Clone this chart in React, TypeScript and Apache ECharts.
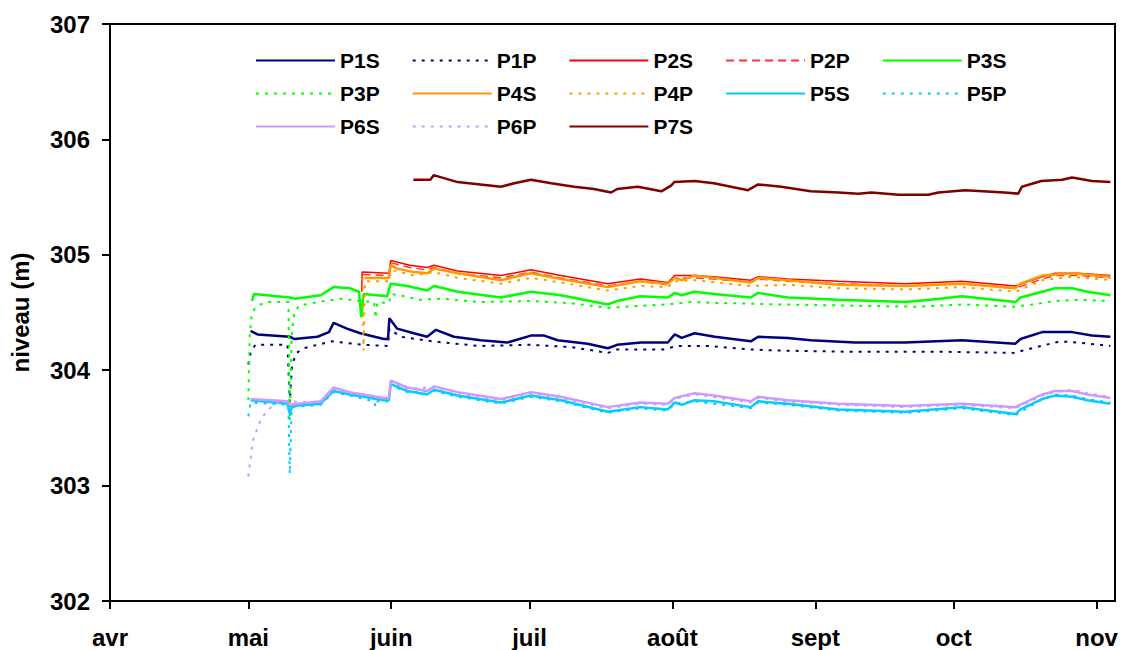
import { useEffect, useRef } from 'react';
import * as echarts from 'echarts';

// x values are days counted from 1 April (0 = 1 avr, 214 = 1 nov)
const monthLabels = ['avr', 'mai', 'juin', 'juil', 'août', 'sept', 'oct', 'nov'];
const monthStartDays = [0, 30, 61, 91, 122, 153, 183, 214];
const lastDay = 218;

const P1S = [[30.5, 304.34], [31, 304.33], [32, 304.31], [39, 304.29], [40, 304.27], [45, 304.29], [47.5, 304.33], [48.5, 304.41], [51.4, 304.36], [54.3, 304.32], [59.4, 304.27], [60.3, 304.27], [60.6, 304.45], [62.3, 304.36], [65.9, 304.32], [68.8, 304.29], [70.7, 304.35], [74.6, 304.29], [80.4, 304.26], [86.2, 304.24], [91.3, 304.3], [94.2, 304.3], [97.1, 304.26], [103.6, 304.23], [108, 304.19], [110, 304.22], [115.2, 304.24], [121, 304.24], [122.5, 304.31], [124, 304.28], [126.8, 304.32], [131.2, 304.29], [139, 304.25], [140.6, 304.29], [147, 304.28], [152, 304.26], [161.6, 304.24], [172.5, 304.24], [184.8, 304.26], [196.4, 304.23], [197.5, 304.27], [202.2, 304.33], [208.7, 304.33], [213, 304.3], [217, 304.29]];
const P1P = [[30, 304.05], [30.5, 304.15], [31.5, 304.22], [38.5, 304.22], [39, 303.72], [39.5, 304.05], [40.5, 304.15], [42, 304.19], [48, 304.25], [55, 304.22], [60.3, 304.21], [60.6, 304.36], [63, 304.29], [70, 304.25], [80, 304.21], [91, 304.22], [100, 304.2], [108, 304.15], [110, 304.18], [120, 304.18], [123, 304.21], [130, 304.21], [139, 304.18], [145, 304.17], [160, 304.16], [180, 304.16], [196, 304.15], [198, 304.17], [202, 304.21], [206, 304.25], [210, 304.24], [217, 304.21]];
const P2S = [[54.6, 304.68], [54.7, 304.85], [60.5, 304.84], [60.9, 304.95], [65, 304.91], [68.8, 304.89], [70.3, 304.91], [75.4, 304.86], [84.8, 304.82], [91.3, 304.87], [97.8, 304.82], [108, 304.75], [115, 304.79], [121, 304.76], [122.5, 304.82], [126.8, 304.82], [131, 304.81], [139, 304.78], [140.6, 304.81], [147, 304.79], [158, 304.77], [172.5, 304.75], [184.8, 304.77], [196.4, 304.73], [202.2, 304.81], [205, 304.84], [210, 304.84], [217, 304.82]];
const P2P = [[54.8, 304.83], [60.5, 304.82], [61, 304.93], [65, 304.89], [68.8, 304.87], [70.3, 304.89], [75.4, 304.84], [84.8, 304.8], [91.3, 304.85], [97.8, 304.8], [108, 304.73], [115, 304.77], [121, 304.74], [122.5, 304.8], [126.8, 304.8], [131, 304.79], [139, 304.76], [140.6, 304.79], [147, 304.77], [158, 304.75], [172.5, 304.73], [184.8, 304.75], [196.4, 304.71], [202.2, 304.79], [205, 304.82], [210, 304.82], [217, 304.8]];
const P3S = [[30.8, 304.6], [31.2, 304.66], [39, 304.63], [40, 304.62], [45.7, 304.65], [48.5, 304.72], [52, 304.71], [54, 304.68], [54.5, 304.46], [55, 304.66], [60.1, 304.64], [60.9, 304.75], [64.5, 304.73], [68.8, 304.69], [70.3, 304.73], [75.4, 304.68], [84.8, 304.63], [91.3, 304.68], [97.8, 304.65], [108, 304.57], [110, 304.6], [115, 304.64], [121, 304.63], [122.5, 304.67], [124, 304.65], [126.8, 304.68], [131, 304.66], [139, 304.63], [140.6, 304.67], [147, 304.63], [158, 304.61], [172.5, 304.59], [178, 304.61], [184.8, 304.64], [196.4, 304.59], [197.5, 304.63], [202.2, 304.68], [205, 304.71], [208.7, 304.71], [212, 304.68], [217, 304.65]];
const P3P = [[30, 303.74], [30.3, 304.3], [30.8, 304.5], [32, 304.56], [34, 304.59], [38.7, 304.59], [39, 303.56], [39.4, 304.3], [40, 304.5], [41, 304.56], [45, 304.59], [50, 304.62], [54, 304.6], [57.3, 304.59], [57.6, 304.45], [58, 304.59], [60.5, 304.58], [61, 304.66], [64, 304.64], [67, 304.61], [72, 304.62], [80, 304.59], [91, 304.6], [100, 304.58], [108, 304.54], [112, 304.55], [121, 304.57], [126, 304.59], [135, 304.58], [145, 304.57], [160, 304.56], [175, 304.55], [185, 304.57], [196, 304.55], [200, 304.57], [205, 304.6], [210, 304.61], [217, 304.6]];
const P4S = [[55.2, 304.8], [60.5, 304.8], [60.9, 304.91], [62.3, 304.88], [65.9, 304.85], [68.8, 304.84], [70.3, 304.88], [75.4, 304.84], [84.8, 304.78], [91.3, 304.84], [97.8, 304.79], [108, 304.72], [115, 304.77], [121, 304.75], [122.5, 304.8], [124, 304.78], [126.8, 304.82], [131, 304.8], [139, 304.76], [140.6, 304.8], [147, 304.78], [158, 304.74], [172.5, 304.73], [184.8, 304.75], [196.4, 304.71], [197.5, 304.75], [202.2, 304.82], [205, 304.83], [208.7, 304.84], [217, 304.81]];
const P4P = [[54.8, 304.8], [55, 304.17], [55.3, 304.77], [60.5, 304.77], [61, 304.87], [65.9, 304.82], [70.3, 304.85], [75.4, 304.8], [84.8, 304.75], [91.3, 304.8], [97.8, 304.76], [108, 304.69], [115, 304.73], [121, 304.72], [122.5, 304.77], [126.8, 304.78], [139, 304.73], [147, 304.74], [158, 304.71], [172.5, 304.7], [184.8, 304.72], [196.4, 304.68], [202.2, 304.78], [208.7, 304.81], [217, 304.78]];
const P5S = [[30.5, 303.74], [38.5, 303.71], [39, 303.62], [39.5, 303.69], [45.7, 303.71], [48.5, 303.82], [52, 303.79], [59.4, 303.74], [60.5, 303.74], [60.9, 303.88], [64.5, 303.82], [68.8, 303.79], [70.3, 303.83], [75.4, 303.78], [84.8, 303.72], [91.3, 303.78], [97.8, 303.74], [108, 303.64], [115, 303.68], [121, 303.66], [122.5, 303.72], [124, 303.7], [126.8, 303.74], [131, 303.73], [139, 303.68], [140.6, 303.73], [147, 303.71], [158, 303.66], [172.5, 303.64], [184.8, 303.68], [196.4, 303.62], [197.5, 303.66], [202.2, 303.75], [205, 303.78], [208.7, 303.77], [212, 303.74], [217, 303.71]];
const P5P = [[30, 303.6], [30.5, 303.72], [38.7, 303.7], [39, 303.1], [39.4, 303.68], [45.7, 303.7], [48.5, 303.81], [52, 303.78], [57.3, 303.73], [57.6, 303.68], [58, 303.73], [60.5, 303.73], [60.9, 303.87], [64.5, 303.81], [70.3, 303.82], [75.4, 303.77], [84.8, 303.71], [91.3, 303.77], [97.8, 303.73], [108, 303.63], [115, 303.67], [121, 303.65], [122.5, 303.71], [126.8, 303.73], [139, 303.67], [140.6, 303.72], [147, 303.7], [158, 303.65], [172.5, 303.63], [184.8, 303.67], [196.4, 303.61], [202.2, 303.75], [205, 303.79], [208.7, 303.78], [212, 303.75], [217, 303.72]];
const P6S = [[30.5, 303.75], [38.5, 303.73], [39, 303.7], [45.7, 303.73], [48.5, 303.85], [52, 303.81], [59.4, 303.76], [60.5, 303.76], [60.9, 303.91], [64.5, 303.85], [68.8, 303.82], [70.3, 303.86], [75.4, 303.81], [84.8, 303.75], [91.3, 303.81], [97.8, 303.77], [108, 303.68], [115, 303.72], [121, 303.71], [122.5, 303.76], [126.8, 303.8], [131, 303.78], [139, 303.73], [140.6, 303.77], [147, 303.74], [158, 303.71], [172.5, 303.69], [184.8, 303.71], [196.4, 303.68], [202.2, 303.79], [205, 303.82], [208.7, 303.82], [212, 303.79], [217, 303.76]];
const P6P = [[30, 303.08], [31, 303.39], [32.5, 303.55], [34, 303.65], [36, 303.71], [38.5, 303.73], [45.7, 303.72], [48.5, 303.84], [52, 303.8], [60.5, 303.75], [60.9, 303.9], [64.5, 303.84], [70.3, 303.85], [75.4, 303.8], [84.8, 303.74], [91.3, 303.8], [97.8, 303.76], [108, 303.67], [115, 303.71], [121, 303.7], [122.5, 303.75], [126.8, 303.79], [139, 303.72], [140.6, 303.76], [147, 303.73], [158, 303.7], [172.5, 303.68], [184.8, 303.7], [196.4, 303.67], [202.2, 303.78], [205, 303.81], [208.7, 303.83], [212, 303.8], [217, 303.77]];
const P7S = [[65.8, 305.65], [69.5, 305.65], [70.2, 305.69], [75.4, 305.63], [84.8, 305.59], [87.7, 305.62], [91.3, 305.65], [95.7, 305.62], [100.7, 305.59], [105, 305.57], [108.7, 305.54], [110, 305.57], [114.5, 305.59], [119.6, 305.55], [121.7, 305.6], [122.4, 305.63], [126.8, 305.64], [131, 305.62], [138.4, 305.56], [140.6, 305.61], [145.6, 305.59], [152, 305.55], [158, 305.54], [162.3, 305.53], [165.2, 305.54], [171, 305.52], [177.5, 305.52], [179.7, 305.54], [185.5, 305.56], [194, 305.54], [197, 305.53], [197.8, 305.59], [202, 305.64], [206.5, 305.65], [208.7, 305.67], [213, 305.64], [217, 305.63]];

const seriesDefs = [
  { name: 'P1S', data: P1S, color: '#000080', width: 2.5, type: 'solid' },
  { name: 'P1P', data: P1P, color: '#000080', width: 2, type: [3, 6] },
  { name: 'P2S', data: P2S, color: '#ff0000', width: 1.5, type: 'solid' },
  { name: 'P2P', data: P2P, color: '#ff3333', width: 1.5, type: [8, 5] },
  { name: 'P3S', data: P3S, color: '#00ff00', width: 2.5, type: 'solid' },
  { name: 'P3P', data: P3P, color: '#00ff00', width: 2, type: [3, 6] },
  { name: 'P4S', data: P4S, color: '#ff9900', width: 2.5, type: 'solid' },
  { name: 'P4P', data: P4P, color: '#ff9900', width: 2, type: [3, 6] },
  { name: 'P5S', data: P5S, color: '#00ccff', width: 2.5, type: 'solid' },
  { name: 'P5P', data: P5P, color: '#00ccff', width: 2, type: [3, 6] },
  { name: 'P6S', data: P6S, color: '#cc99ff', width: 2.5, type: 'solid' },
  { name: 'P6P', data: P6P, color: '#cc99ff', width: 2, type: [3, 6] },
  { name: 'P7S', data: P7S, color: '#800000', width: 2.5, type: 'solid' },
];

const legendRows = [
  ['P1S', 'P1P', 'P2S', 'P2P', 'P3S'],
  ['P3P', 'P4S', 'P4P', 'P5S', 'P5P'],
  ['P6S', 'P6P', 'P7S'],
];

const FONT = '"Liberation Sans", Arial, Helvetica, sans-serif';

export default function App() {
  const chartRef = useRef<HTMLDivElement>(null);

  useEffect(() => {
    if (!chartRef.current) return;
    document.body.style.margin = '0';

    const chart = echarts.init(chartRef.current, undefined, { renderer: 'svg' });

    const isMonthStart = (index: number) => monthStartDays.includes(index);
    const dayCategories = Array.from({ length: lastDay + 1 }, (_, i) => String(i));

    const option: echarts.EChartsOption = {
      animation: false,
      backgroundColor: '#fff',
      textStyle: { fontFamily: FONT },
      grid: {
        left: 110,
        right: 10,
        top: 24,
        bottom: 49,
        containLabel: false,
        outerBoundsMode: 'none',
        show: true,
        borderColor: '#000',
        borderWidth: 2,
      } as any,
      legend: legendRows.map((row, i) => ({
        data: row,
        left: 255,
        top: 50 + i * 33,
        orient: 'horizontal',
        itemWidth: 79,
        itemHeight: 14,
        itemGap: 32,
        padding: 0,
        selectedMode: false,
        itemStyle: {
          color: 'rgba(0,0,0,0)',
          borderColor: 'rgba(0,0,0,0)',
          borderWidth: 0,
        },
        textStyle: {
          fontFamily: FONT,
          fontSize: 21,
          fontWeight: 'bold',
          color: '#000',
        },
      })),
      xAxis: [
        {
          type: 'category',
          data: dayCategories,
          boundaryGap: false,
          axisLine: { lineStyle: { color: '#000', width: 2 } },
          axisTick: {
            interval: (index: number) => isMonthStart(index),
            length: 8,
            lineStyle: { color: '#000', width: 2 },
          },
          axisLabel: {
            interval: (index: number) => isMonthStart(index),
            formatter: (value: string) => monthLabels[monthStartDays.indexOf(Number(value))] ?? '',
            fontFamily: FONT,
            fontSize: 24,
            fontWeight: 'bold',
            color: '#000',
            margin: 24,
          },
          splitLine: { show: false },
        },
        {
          type: 'value',
          min: 0,
          max: lastDay,
          show: false,
        },
      ],
      yAxis: {
        type: 'value',
        min: 302,
        max: 307,
        interval: 1,
        name: 'niveau (m)',
        nameLocation: 'middle',
        nameGap: 78,
        nameTextStyle: {
          fontFamily: FONT,
          fontSize: 24,
          fontWeight: 'bold',
          color: '#000',
        },
        axisLine: { show: true, lineStyle: { color: '#000', width: 2 } },
        axisTick: { show: true, length: 8, lineStyle: { color: '#000', width: 2 } },
        axisLabel: {
          fontFamily: FONT,
          fontSize: 24,
          fontWeight: 'bold',
          color: '#000',
          margin: 20,
        },
        splitLine: { show: false },
      },
      series: seriesDefs.map(s => ({
        name: s.name,
        type: 'line',
        xAxisIndex: 1,
        data: s.data,
        symbol: 'none',
        showSymbol: false,
        color: s.color,
        lineStyle: { color: s.color, width: s.width, type: s.type as any },
        emphasis: { disabled: true },
      })),
    };

    chart.setOption(option);

    return () => {
      chart.dispose();
    };
  }, []);

  return <div ref={chartRef} style={{ width: '1125px', height: '650px' }} />;
}
